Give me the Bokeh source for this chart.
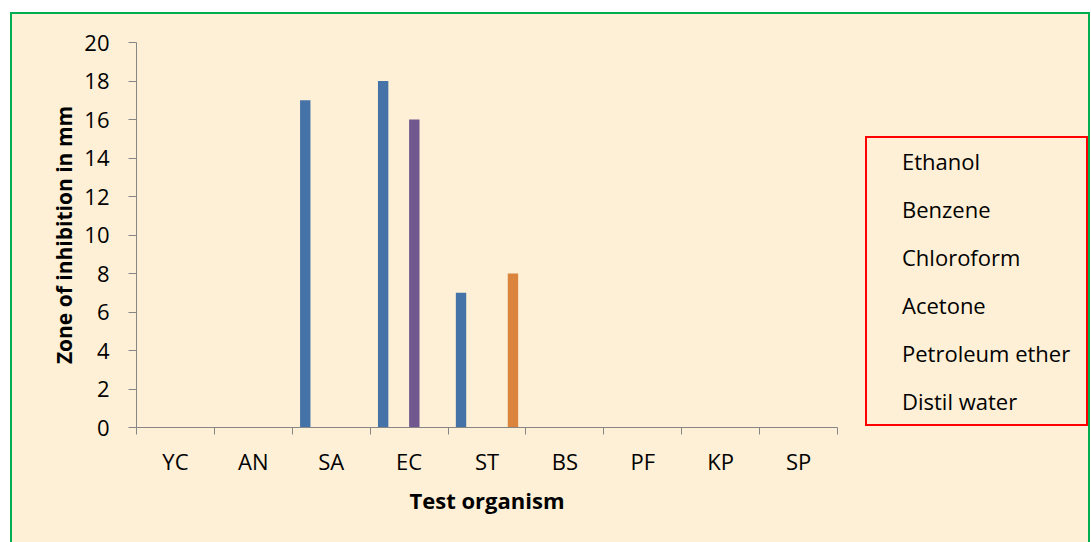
from bokeh.plotting import figure
from bokeh.layouts import row
from bokeh.models import (ColumnDataSource, FactorRange, Range1d, LinearAxis, CategoricalAxis,
                          FixedTicker, Legend, LegendItem)
from bokeh.transform import dodge
from bokeh.embed import file_html
from bokeh.resources import INLINE

organisms = ["YC", "AN", "SA", "EC", "ST", "BS", "PF", "KP", "SP"]
series_names = ["Ethanol", "Benzene", "Chloroform", "Acetone", "Petroleum ether", "Distil water"]
ethanol = [0, 0, 17, 18, 7, 0, 0, 0, 0]
benzene = [0, 0, 0, 0, 0, 0, 0, 0, 0]
chloroform = [0, 0, 0, 0, 0, 0, 0, 0, 0]
acetone = [0, 0, 0, 16, 0, 0, 0, 0, 0]
petroleum_ether = [0, 0, 0, 0, 0, 0, 0, 0, 0]
distil_water = [0, 0, 0, 0, 8, 0, 0, 0, 0]
y_ticks = [0, 2, 4, 6, 8, 10, 12, 14, 16, 18, 20]

colors = ["#4572A7", "#AA4643", "#89A54E", "#71588F", "#4198AF", "#DB843D"]
values = [ethanol, benzene, chloroform, acetone, petroleum_ether, distil_water]
keys = ["s0", "s1", "s2", "s3", "s4", "s5"]

data = {"org": organisms}
for k, v in zip(keys, values):
    data[k] = v
source = ColumnDataSource(data)

FONT = "Open Sans"
BG = "#FDF0D6"
GREEN = "2px solid #00B050"

p = figure(x_range=FactorRange(*organisms, range_padding=0), y_range=Range1d(0, 20),
           width=855, height=530, output_backend="svg", toolbar_location=None,
           x_axis_location=None, y_axis_location="left",
           min_border_left=124, min_border_right=30, min_border_top=28, min_border_bottom=117)
p.margin = (0, 0, 0, 0)
p.styles = {"border-left": GREEN, "border-top": GREEN, "box-sizing": "border-box"}
p.background_fill_color = BG
p.border_fill_color = BG
p.outline_line_color = None
p.xgrid.visible = False
p.ygrid.visible = False

bw = 0.8 / 6
for i, k in enumerate(keys):
    p.vbar(x=dodge("org", (i - 2.5) * bw, range=p.x_range), top=k, width=bw,
           source=source, fill_color=colors[i], line_color=None)

# y axis
ya = p.yaxis[0]
ya.ticker = FixedTicker(ticks=y_ticks)
ya.axis_line_color = "#868686"
ya.major_tick_line_color = "#868686"
ya.major_tick_out = 8
ya.major_tick_in = 0
ya.minor_tick_line_color = None
ya.major_label_text_font = FONT
ya.major_label_text_font_size = "22px"
ya.major_label_text_color = "black"
ya.major_label_standoff = 19
ya.axis_label = "Zone of inhibition in mm"
ya.axis_label_text_font = FONT
ya.axis_label_text_font_style = "bold"
ya.axis_label_text_font_size = "21px"
ya.axis_label_text_color = "black"
ya.axis_label_standoff = 3

# x tick-mark axis (boundaries between categories, in synthetic coordinates)
ta = LinearAxis(ticker=FixedTicker(ticks=[], minor_ticks=list(range(len(organisms) + 1))))
ta.axis_line_color = "#868686"
ta.major_tick_line_color = None
ta.minor_tick_line_color = "#868686"
ta.minor_tick_out = 7
ta.minor_tick_in = 0
ta.major_label_text_font_size = "0px"
ta.major_label_standoff = 0
p.add_layout(ta, "below")

xa = CategoricalAxis()
xa.axis_line_color = None
xa.major_tick_line_color = None
xa.minor_tick_line_color = None
xa.major_label_text_font = FONT
xa.major_label_text_font_size = "22px"
xa.major_label_text_color = "black"
xa.major_label_standoff = 5
xa.axis_label = "Test organism"
xa.axis_label_text_font = FONT
xa.axis_label_text_font_style = "bold"
xa.axis_label_text_font_size = "22px"
xa.axis_label_text_color = "black"
xa.axis_label_standoff = 6
p.add_layout(xa, "below")

# legend panel (same background, continues the chart area to the right)
q = figure(x_range=FactorRange(*organisms), y_range=Range1d(0, 20),
           width=225, height=530, output_backend="svg", toolbar_location=None,
           x_axis_location=None, y_axis_location=None,
           min_border_left=0, min_border_right=0, min_border_top=0, min_border_bottom=0)
q.margin = (0, 0, 0, 0)
q.styles = {"border-right": GREEN, "border-top": GREEN, "box-sizing": "border-box"}
q.background_fill_color = BG
q.border_fill_color = BG
q.outline_line_color = None
q.xgrid.visible = False
q.ygrid.visible = False
legend_source = ColumnDataSource({"org": [], **{k: [] for k in keys}})
leg_renderers = []
for i, k in enumerate(keys):
    r = q.vbar(x=dodge("org", (i - 2.5) * bw, range=q.x_range), top=k, width=bw,
               source=legend_source, fill_color=colors[i], line_color=None)
    leg_renderers.append(r)

legend = Legend(items=[LegendItem(label=n, renderers=[r]) for n, r in zip(series_names, leg_renderers)],
                location=(0, 1))
legend.border_line_color = "#FF0000"
legend.border_line_alpha = 1.0
legend.border_line_width = 2
legend.background_fill_alpha = 0
legend.label_text_font = FONT
legend.label_text_font_size = "22px"
legend.label_text_color = "black"
legend.glyph_width = 14
legend.glyph_height = 14
legend.label_height = 24
legend.label_width = 176
legend.spacing = 18
legend.padding = 8
legend.margin = 0
legend.label_standoff = 13
q.add_layout(legend, "center")

layout = row(p, q)
layout.margin = (12, 0, 0, 10)
layout.styles = {"background-color": BG}
open("out.html", "w").write(file_html(layout, INLINE))
